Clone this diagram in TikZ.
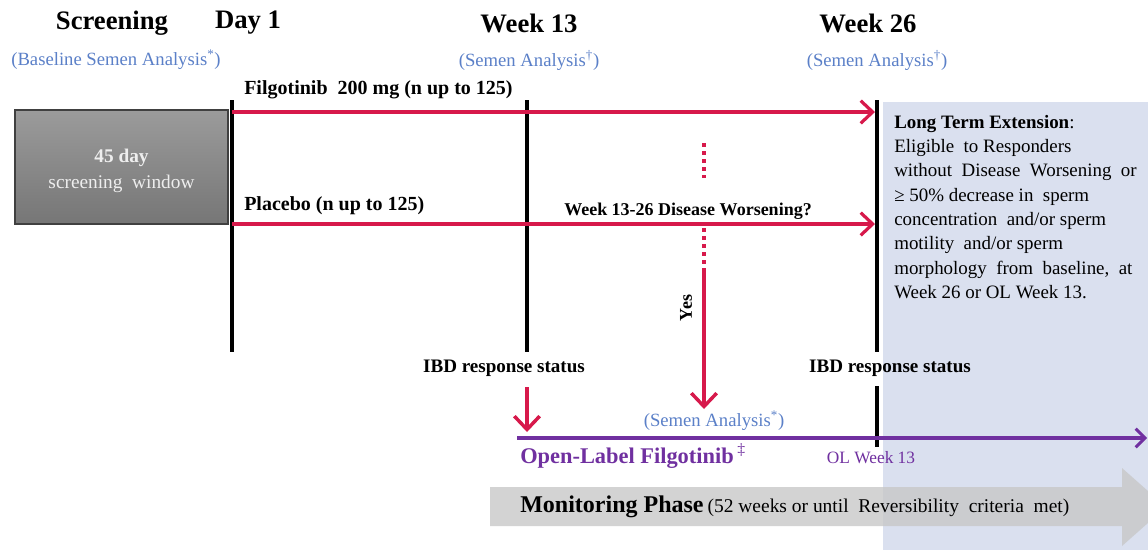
\documentclass[tikz,border=0pt]{standalone}
\usepackage{fontspec}
\setmainfont{Liberation Serif}
\usetikzlibrary{arrows.meta}
\definecolor{cred}{HTML}{D7194B}
\definecolor{cpurple}{HTML}{7030A0}
\definecolor{cblue}{HTML}{5B80C8}
\definecolor{bgblue}{HTML}{DAE0EF}
\definecolor{boxtop}{RGB}{155,155,155}
\definecolor{boxbot}{RGB}{118,118,118}
\definecolor{boxtext}{RGB}{238,238,238}
\definecolor{monogray}{RGB}{200,200,200}
\begin{document}
\begin{tikzpicture}[x=0.75pt,y=-0.75pt,
  title/.style={font=\fontsize{20}{24}\selectfont\bfseries, inner sep=0pt},
  sub/.style={font=\fontsize{14}{16}\selectfont, text=cblue, inner sep=0pt},
  lbl/.style={font=\fontsize{15}{18}\selectfont\bfseries, inner sep=0pt},
  ibd/.style={font=\fontsize{13.5}{16}\selectfont\bfseries, inner sep=0pt},
  vline/.style={line width=3pt, black},
  redarr/.style={line width=2.6pt, cred, -{Straight Barb[length=9pt,width=17pt,line width=2.4pt]}},
  reddown/.style={line width=2.6pt, cred, -{Straight Barb[length=10pt,width=19pt,line width=2.6pt]}},
  reddot/.style={line width=2.6pt, cred, dash pattern=on 3pt off 3pt},
  purparr/.style={line width=2.4pt, cpurple, -{Straight Barb[length=7pt,width=14pt,line width=2.2pt]}},
]
\useasboundingbox (0,0) rectangle (1148,550);
\fill[white] (0,0) rectangle (1148,550);

% light blue extension background
\fill[bgblue] (883,102) rectangle (1148,550);

% headers
\node[title] (scr) at (112,23) {Screening};
\node[title] (d1) at (248,23) {Day 1};
\node[title] (w13) at (529,23) {Week 13};
\node[title] (w26) at (868,23) {Week 26};
\node[sub] (bsa) at (116,60) {(Baseline Semen Analysis\textsuperscript{*})};
\node[sub] (sa13) at (529,60) {(Semen Analysis\textsuperscript{†})};
\node[sub] (sa26) at (877,60) {(Semen Analysis\textsuperscript{†})};

% screening box
\node[draw=black!75, line width=0.8pt, top color=boxtop, bottom color=boxbot,
      minimum width=159.75pt, minimum height=85.5pt, inner sep=0pt] (sbox) at (121.5,167) {};
\node[text=boxtext, align=center, inner sep=0pt, font=\fontsize{14.5}{19}\selectfont] (stext) at (121.5,171)
      {\textbf{45 day}\\screening\ \ window};

% vertical timeline lines
\coordinate (d1t) at (232,100);  \coordinate (d1b) at (232,352);
\coordinate (w13t) at (527,100); \coordinate (w13b) at (527,352);
\coordinate (w26t) at (877,100); \coordinate (w26b) at (877,352);
\coordinate (w26c) at (877,386); \coordinate (w26d) at (877,447);
\draw[vline] (d1t) -- (d1b);
\draw[vline] (w13t) -- (w13b);
\draw[vline] (w26t) -- (w26b);
\draw[vline] (w26c) -- (w26d);

% treatment arms
\coordinate (fs) at (232,112); \coordinate (fe) at (875,112);
\coordinate (ps) at (232,224); \coordinate (pe) at (875,224);
\draw[redarr] (fs) -- (fe);
\draw[redarr] (ps) -- (pe);
\node[lbl, anchor=west] (filg) at (244,90) {Filgotinib\ \ 200 mg (n up to 125)};
\node[lbl, anchor=west] (plac) at (244,206) {Placebo (n up to 125)};
\node[ibd] (dw) at (688,211) {Week 13-26 Disease Worsening?};

% disease worsening branch
\coordinate (dv1) at (704,143); \coordinate (dv2) at (704,178);
\coordinate (dv3) at (704,228); \coordinate (dv4) at (704,272);
\coordinate (dv5) at (704,409);
\draw[reddot] (dv1) -- (dv2);
\draw[reddot] (dv3) -- (dv4);
\draw[reddown] (dv4) -- (dv5);
\node[ibd, rotate=90] (yes) at (686,308) {Yes};

% IBD response
\node[ibd, font=\fontsize{14.3}{17}\selectfont\bfseries] (ibd1) at (504,368) {IBD response status};
\node[ibd, font=\fontsize{14.3}{17}\selectfont\bfseries] (ibd2) at (890,368) {IBD response status};
\coordinate (ra1) at (527,387); \coordinate (ra2) at (527,432);
\draw[reddown] (ra1) -- (ra2);

\node[sub] (sa) at (714,421) {(Semen Analysis\textsuperscript{*})};

% open label line
\coordinate (ols) at (517,438); \coordinate (ole) at (1147,438);
\draw[purparr] (ols) -- (ole);
\node[font=\fontsize{16.8}{19}\selectfont\bfseries, text=cpurple, inner sep=0pt, anchor=west] (olf) at (520,456) {Open-Label Filgotinib\,\textsuperscript{\mdseries ‡}};
\node[font=\fontsize{13}{16}\selectfont, text=cpurple, inner sep=0pt] (olw) at (871,458) {OL Week 13};

% long-term extension text
\node[anchor=north west, inner sep=0pt, align=left, font=\fontsize{14.2}{18.2}\selectfont] (lte) at (894,115)
  {\textbf{Long Term Extension}:\\
   Eligible\ \ to Responders\\
   without\ \ Disease\ \ Worsening\ \ or\\
   ≥ 50\% decrease in\ \ sperm\\
   concentration\ \ and/or sperm\\
   motility\ \ and/or sperm\\
   morphology\ \ from\ \ baseline,\ \ at\\
   Week 26 or OL Week 13.};

% monitoring phase arrow
\fill[monogray, opacity=0.8] (490,487) -- (1122,487) -- (1122,468) -- (1166,507) -- (1122,546) -- (1122,526) -- (490,526) -- cycle;
\node[anchor=west, inner sep=0pt] (mon) at (520,507)
  {\fontsize{18}{21}\selectfont\textbf{Monitoring Phase}\,\fontsize{14.6}{17}\selectfont(52 weeks or until\ \ Reversibility\ \ criteria\ \ met)};
\end{tikzpicture}
\end{document}
